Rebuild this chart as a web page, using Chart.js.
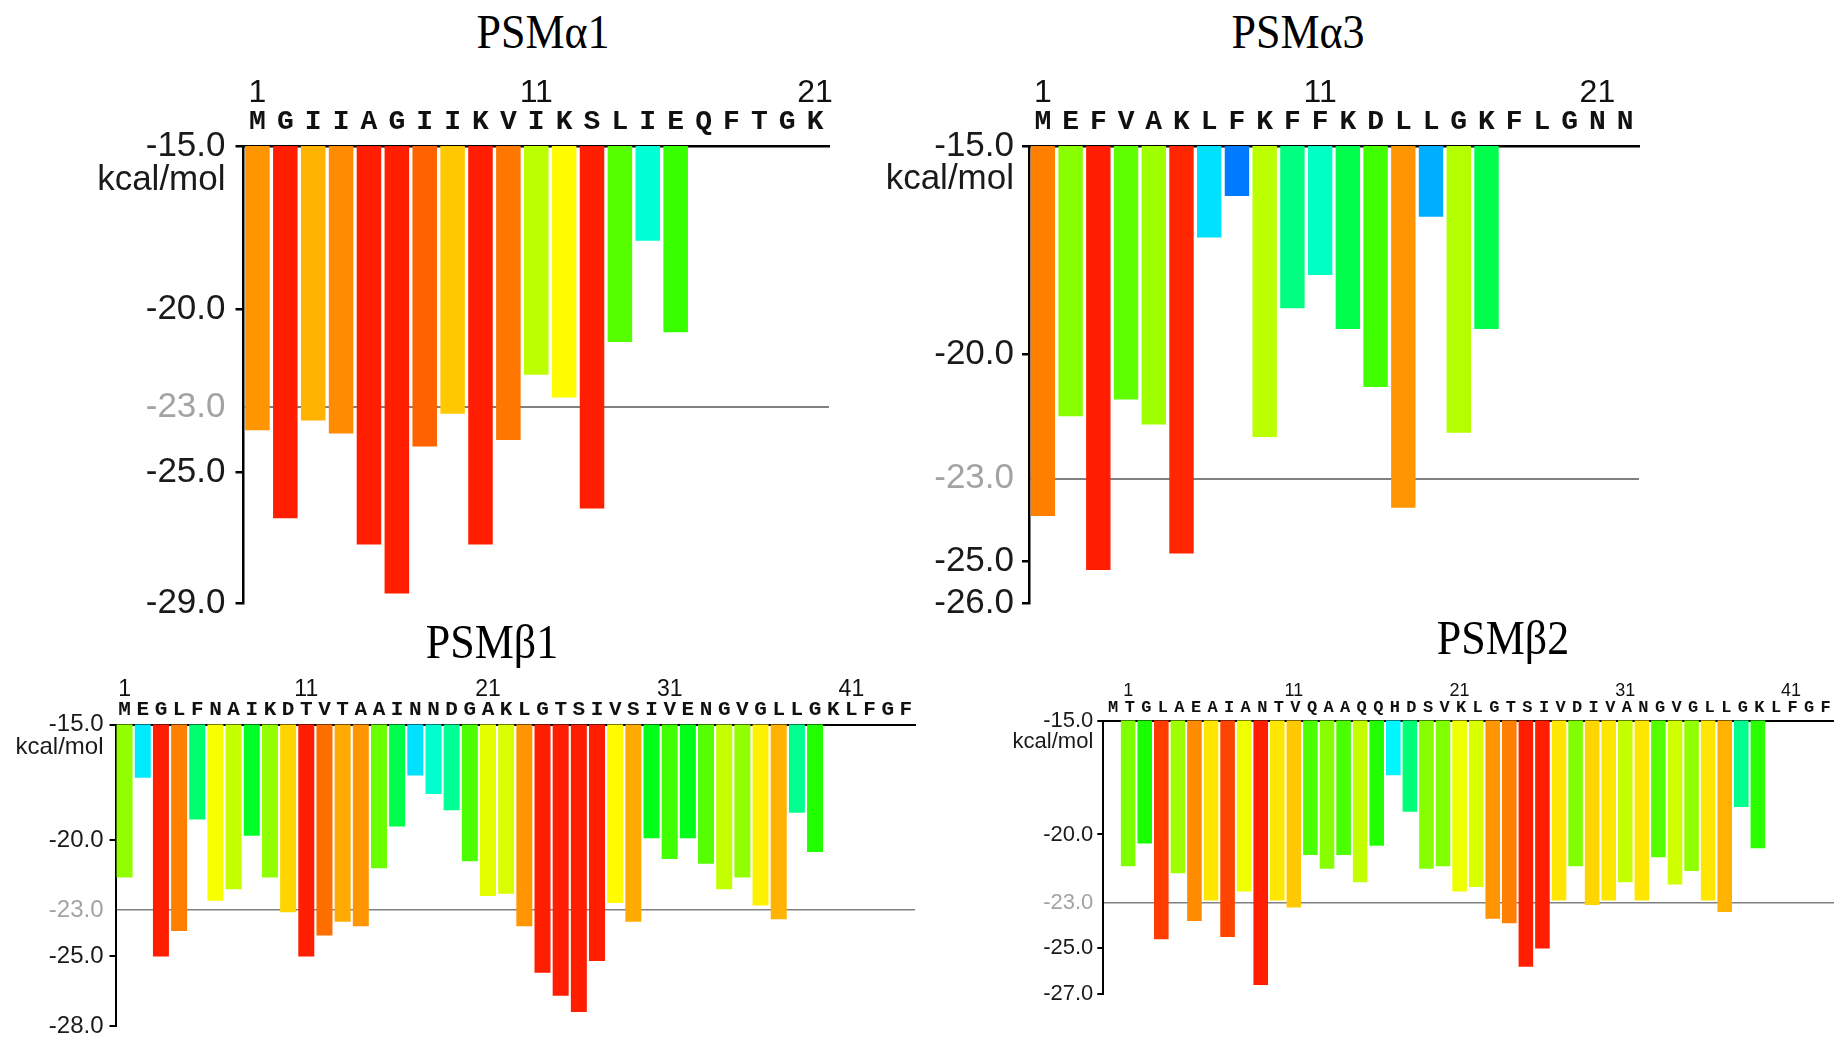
<!DOCTYPE html>
<html>
<head>
<meta charset="utf-8">
<script src="https://cdn.jsdelivr.net/npm/chart.js@4.4.0/dist/chart.umd.min.js"></script>
<style>
html, body { margin: 0; padding: 0; background: #fff; }
body { width: 1834px; height: 1037px; overflow: hidden; position: relative; }
canvas { position: absolute; }
.title {
    position: absolute;
    font-family: "Liberation Serif", "Times New Roman", serif;
    font-size: 44px;
    line-height: 1;
    white-space: nowrap;
    color: #000;
    transform: translate(-50%, -50%) scaleY(1.12);
    z-index: 5;
}
</style>
</head>
<body>
<canvas id="a1"></canvas>
<canvas id="a3"></canvas>
<canvas id="b1"></canvas>
<canvas id="b2"></canvas>
<div class="title" style="left:543px;top:32px">PSMα1</div>
<div class="title" style="left:1298px;top:32px">PSMα3</div>
<div class="title" style="left:492px;top:642px">PSMβ1</div>
<div class="title" style="left:1503px;top:638px">PSMβ2</div>
<script>
// peptide sequences (one letter per residue)
const seqA1 = 'MGIIAGIIKVIKSLIEQFTGK';
const seqA3 = 'MEFVAKLFKFFKDLLGKFLGNN';
const seqB1 = 'MEGLFNAIKDTVTAAINNDGAKLGTSIVSIVENGVGLLGKLFGF';
const seqB2 = 'MTGLAEAIANTVQAAQQHDSVKLGTSIVDIVANGVGLLGKLFGF';

// energies per residue, kcal/mol
const dgA1 = [-23.7, -26.4, -23.4, -23.8, -27.2, -28.7, -24.2, -23.2, -27.2, -24.0,
    -22.0, -22.7, -26.1, -21.0, -17.9, -20.7];
const dgA3 = [-23.9, -21.5, -25.2, -21.1, -21.7, -24.8, -17.2, -16.2, -22.0, -18.9,
    -18.1, -19.4, -20.8, -23.7, -16.7, -21.9, -19.4];
const dgB1 = [-21.6, -17.3, -25.0, -23.9, -19.1, -22.6, -22.1, -19.8, -21.6, -23.1,
    -25.0, -24.1, -23.5, -23.7, -21.2, -19.4, -17.2, -18.0, -18.7, -20.9,
    -22.4, -22.3, -23.7, -25.7, -26.7, -27.4, -25.2, -22.7, -23.5, -19.9,
    -20.8, -19.9, -21.0, -22.1, -21.6, -22.8, -23.4, -18.8, -20.5];
const dgB2 = [-21.4, -20.4, -24.6, -21.7, -23.8, -22.9, -24.5, -22.5, -26.6, -22.9,
    -23.2, -20.9, -21.5, -20.9, -22.1, -20.5, -17.4, -19.0, -21.5, -21.4,
    -22.5, -22.3, -23.7, -23.9, -25.8, -25.0, -22.9, -21.4, -23.1, -22.9,
    -22.1, -22.9, -21.0, -22.2, -21.6, -22.9, -23.4, -18.8, -20.6];

// y tick values
const yTicksA1 = [-15, -20, -23, -25, -29];
const yTicksA3 = [-15, -20, -23, -25, -26];
const yTicksB1 = [-15, -20, -23, -25, -28];
const yTicksB2 = [-15, -20, -23, -25, -27];

const threshold = -23;

const SANS = '"Liberation Sans", Arial, sans-serif';
const MONO = '"Liberation Mono", "Courier New", monospace';

// red (low) -> yellow -> green -> cyan -> blue (high)
function barColor(v) {
    let h = 52 + (v - threshold) * 24;
    if (v > -18.5) h -= 4;
    h = Math.max(7, Math.min(216, h));
    return 'hsl(' + h.toFixed(0) + ',100%,50%)';
}

function panel(id, p) {
    const lead = p.lead || 0;
    const letters = Array(lead).fill('').concat(p.seq.split(''));
    const numbers = letters.map((s, i) => (i >= lead && (i - lead) % 10 === 0) ? String(i - lead + 1) : '');
    const values = Array(lead).fill(null).concat(p.dg);

    const b = p.box, a = p.area;
    // split the two label rows between the digits' bottom and the letters' top
    const split = (p.numY + 0.38 * p.numSize + p.seqY - 0.38 * p.seqSize) / 2;
    const hSeq = a.t - split;
    const hNum = split - b.y;
    const numPad = split - p.numY - p.numSize * 0.6;
    const seqPad = a.t - p.seqY - p.seqSize * 0.6;

    const cv = document.getElementById(id);
    cv.width = b.w;
    cv.height = b.h;
    cv.style.left = b.x + 'px';
    cv.style.top = b.y + 'px';

    const kcal = {
        id: 'kcal_' + id,
        afterDraw(chart) {
            const y = chart.scales.y;
            const c = chart.ctx;
            c.save();
            c.font = p.tickSize + 'px ' + SANS;
            c.fillStyle = '#1a1a1a';
            c.textAlign = 'right';
            c.textBaseline = 'middle';
            c.fillText('kcal/mol', y.right - p.tickLen - p.tickPad, y.getPixelForValue(y.max) + p.kcalDy);
            c.restore();
        }
    };

    const isRef = ctx => ctx.tick && ctx.tick.value === threshold;

    return new Chart(cv, {
        type: 'bar',
        data: {
            labels: letters,
            datasets: [{
                data: values,
                backgroundColor: values.map(v => v == null ? 'rgba(0,0,0,0)' : barColor(v)),
                borderWidth: 0,
                barPercentage: 0.88,
                categoryPercentage: 1
            }]
        },
        options: {
            responsive: false,
            animation: false,
            layout: {
                padding: { left: 0, top: 0, right: b.x + b.w - a.r, bottom: b.y + b.h - a.b }
            },
            plugins: { legend: { display: false }, tooltip: { enabled: false } },
            scales: {
                x: {
                    type: 'category',
                    position: 'top',
                    offset: true,
                    weight: 0,
                    grid: { display: false, drawTicks: false },
                    border: { display: true, color: '#000', width: p.lineW },
                    ticks: {
                        autoSkip: false, maxRotation: 0, minRotation: 0,
                        padding: seqPad,
                        labelOffset: p.seqShift || 0,
                        color: '#111',
                        font: { family: MONO, size: p.seqSize, weight: 'bold' }
                    },
                    afterFit: s => { s.height = hSeq; }
                },
                x2: {
                    type: 'category',
                    axis: 'x',
                    labels: numbers,
                    position: 'top',
                    offset: true,
                    weight: 1,
                    grid: { display: false, drawTicks: false },
                    border: { display: false },
                    ticks: {
                        autoSkip: false, maxRotation: 0, minRotation: 0,
                        padding: numPad,
                        color: '#111',
                        font: { family: SANS, size: p.numSize }
                    },
                    afterFit: s => { s.height = hNum; }
                },
                y: {
                    type: 'linear',
                    min: p.yTicks[p.yTicks.length - 1],
                    max: p.yTicks[0],
                    z: 1,
                    afterBuildTicks: s => { s.ticks = p.yTicks.map(v => ({ value: v })); },
                    afterFit: s => { s.width = a.l - b.x; },
                    grid: {
                        drawOnChartArea: true,
                        tickLength: p.tickLen,
                        color: ctx => isRef(ctx) ? '#808080' : 'rgba(0,0,0,0)',
                        tickColor: ctx => isRef(ctx) ? 'rgba(0,0,0,0)' : '#000',
                        lineWidth: ctx => isRef(ctx) ? p.refW : p.lineW
                    },
                    border: { display: true, color: '#000', width: p.lineW },
                    ticks: {
                        padding: p.tickPad,
                        color: ctx => isRef(ctx) ? '#a3a3a3' : '#1a1a1a',
                        font: { family: SANS, size: p.tickSize },
                        callback: v => Number(v).toFixed(1)
                    }
                }
            }
        },
        plugins: [kcal]
    });
}

panel('a1', {
    seq: seqA1, dg: dgA1, yTicks: yTicksA1,
    box: { x: 0, y: 60, w: 860, h: 620 },
    area: { l: 243.5, r: 829, t: 146, b: 603.3 },
    numY: 93, numSize: 32, seqY: 122, seqSize: 28,
    tickSize: 35, tickLen: 8, tickPad: 10, kcalDy: 34,
    lineW: 2.5, refW: 2
});

panel('a3', {
    seq: seqA3, dg: dgA3, yTicks: yTicksA3,
    box: { x: 860, y: 60, w: 800, h: 620 },
    area: { l: 1029, r: 1639, t: 146, b: 603.3 },
    numY: 93, numSize: 32, seqY: 122, seqSize: 28,
    tickSize: 35, tickLen: 7, tickPad: 8, kcalDy: 33,
    lineW: 2.5, refW: 2
});

panel('b1', {
    seq: seqB1, dg: dgB1, yTicks: yTicksB1,
    box: { x: 0, y: 650, w: 940, h: 430 },
    area: { l: 115.5, r: 915, t: 724.5, b: 1026 },
    numY: 690, numSize: 23, seqY: 710, seqSize: 21,
    tickSize: 24, tickLen: 6, tickPad: 6, kcalDy: 23,
    lineW: 2, refW: 1.5
});

panel('b2', {
    seq: seqB2, dg: dgB2, yTicks: yTicksB2, lead: 1, seqShift: -15,
    box: { x: 990, y: 640, w: 880, h: 420 },
    area: { l: 1103.3, r: 1849, t: 720.5, b: 994 },
    numY: 691, numSize: 18, seqY: 708, seqSize: 17,
    tickSize: 22, tickLen: 6, tickPad: 4, kcalDy: 21,
    lineW: 2, refW: 1.5
});
</script>
</body>
</html>
